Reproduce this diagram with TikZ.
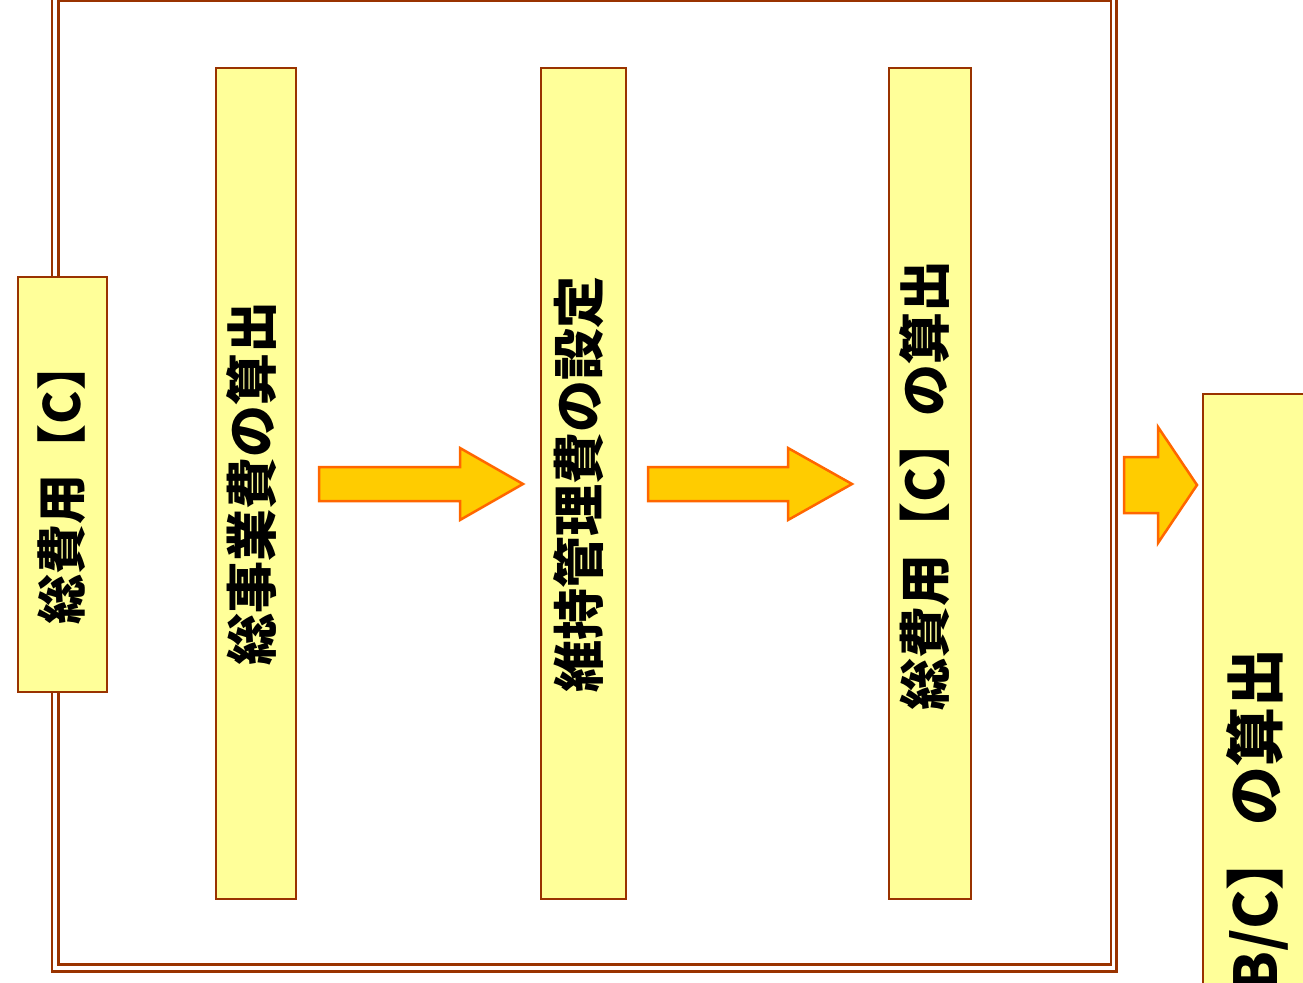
\documentclass[tikz,border=0pt]{standalone}
\usepackage{fontspec}
\usetikzlibrary{calc}
\newfontfamily\jp{Noto Sans CJK JP}
\definecolor{frbrown}{HTML}{993300}
\definecolor{boxyellow}{HTML}{FFFF99}
\definecolor{arryellow}{HTML}{FFCC00}
\definecolor{arrorange}{HTML}{FF6600}
\begin{document}
\begin{tikzpicture}[x=1pt,y=-1pt,
  frame/.style={draw=frbrown, line width=2.5pt},
  box/.style={draw=frbrown, fill=boxyellow, line width=2pt, inner sep=0pt},
  arr/.style={draw=arrorange, fill=arryellow, line width=2.5pt, line join=miter},
  lbl/.style={rotate=90, inner sep=0pt, text=black},
  fs/.style={font=\jp\bfseries\fontsize{#1}{#1}\selectfont}]
\useasboundingbox (0,0) rectangle (1303,982);
\clip (0,0) rectangle (1303,982);
% double frame
\draw[frame] (52,-6) rectangle (1116.5,971.5);
\draw[frame] (58.5,1) rectangle (1111,964.5);
% boxes
\node[box, minimum width=89pt, minimum height=415pt] (b0) at (62.5,484.5) {};
\node[box, minimum width=80pt, minimum height=831pt] (b1) at (256,483.5) {};
\node[box, minimum width=85pt, minimum height=831pt] (b2) at (583.5,483.5) {};
\node[box, minimum width=82pt, minimum height=831pt] (b3) at (930,483.5) {};
\node[box, minimum width=110pt, minimum height=706pt] (b4) at (1258,747) {};
% labels
\node[lbl, fs=50] (t0) at ($(b0.center)+(-1,-2)$) {総費用【C】};
\node[lbl, fs=52] (t1) at ($(b1.center)+(-4,0)$) {総事業費の算出};
\node[lbl, fs=52] (t2) at ($(b2.center)+(-5,1)$) {維持管理費の設定};
\node[lbl, fs=52] (t3) at ($(b3.center)+(-5,2)$) {総費用【C】の算出};
\node[lbl, fs=59, anchor=east] (t4) at (1257,648) {B/C】\hspace{6pt}の算出};
% arrows
\draw[arr] (319,467) -- (460,467) -- (460,448) -- (523,484) -- (460,520) -- (460,501) -- (319,501) -- cycle;
\draw[arr] (648,467) -- (788,467) -- (788,448) -- (852,484) -- (788,520) -- (788,501) -- (648,501) -- cycle;
\draw[arr] (1124,457) -- (1158,457) -- (1158,427) -- (1197,485) -- (1158,543) -- (1158,513) -- (1124,513) -- cycle;
\end{tikzpicture}
\end{document}
